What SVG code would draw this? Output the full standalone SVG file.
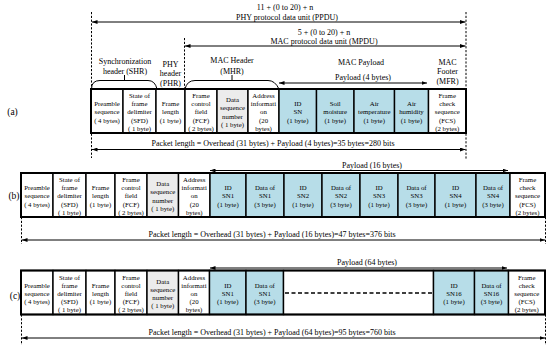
<svg xmlns="http://www.w3.org/2000/svg" width="550" height="347" viewBox="0 0 550 347">
<defs>
<marker id="ah" markerUnits="userSpaceOnUse" markerWidth="6" markerHeight="4" refX="5.5" refY="2" orient="auto-start-reverse"><path d="M0,0 L5.5,2 L0,4 z" fill="#000"/></marker>
<style>
text{font-family:"Liberation Serif","Times New Roman",serif;fill:#000;text-anchor:middle}
.t{font-size:6.8px}
.h{font-size:8px}
.lab{font-size:9.5px}
.c{stroke:#000;stroke-width:1.4;fill:#fff}
.b{fill:#b7dde8}
.g{fill:#ececec}
.o{stroke:#000;stroke-width:2;fill:none}
.d{stroke:#000;stroke-width:1;stroke-dasharray:2.2,1.6;fill:none}
.a{stroke:#000;stroke-width:1;fill:none;marker-start:url(#ah);marker-end:url(#ah)}
.br{stroke:#000;stroke-width:1;fill:none}
</style>
</defs>
<rect width="550" height="347" fill="#fff"/>

<!-- header texts -->
<g id="hdr">
<text class="h" x="285" y="9.5">11 + (0 to 20) + n</text>
<text class="h" x="287" y="19.5">PHY protocol data unit (PPDU)</text>
<text class="h" x="324" y="34.5">5 + (0 to 20) + n</text>
<text class="h" x="324" y="43.8">MAC protocol data unit (MPDU)</text>
<text class="h" x="125" y="63.8">Synchronization</text>
<text class="h" x="125" y="73.8">header (SHR)</text>
<text class="h" x="170.5" y="66.8">PHY</text>
<text class="h" x="170.5" y="75.8">header</text>
<text class="h" x="170.5" y="85.8">(PHR)</text>
<text class="h" x="232" y="62.8">MAC Header</text>
<text class="h" x="232" y="73.8">(MHR)</text>
<text class="h" x="361" y="64.8">MAC Payload</text>
<text class="h" x="363" y="79.8">Payload (4 bytes)</text>
<text class="h" x="447.5" y="64.5">MAC</text>
<text class="h" x="447.5" y="74">Footer</text>
<text class="h" x="447.5" y="83.5">(MFR)</text>
<text class="lab" x="12.5" y="114.5">(a)</text>
<text class="lab" x="14" y="198.5">(b)</text>
<text class="lab" x="15" y="298.5">(c)</text>
<text class="h" x="273" y="146">Packet length = Overhead (31 bytes) + Payload (4 bytes)=35 bytes=280 bits</text>
<text class="h" x="372" y="167.5">Payload (16 bytes)</text>
<text class="h" x="272" y="236.5">Packet length = Overhead (31 bytes) + Payload (16 bytes)=47 bytes=376 bits</text>
<text class="h" x="367" y="264.5">Payload (64 bytes)</text>
<text class="h" x="272" y="334.5">Packet length = Overhead (31 bytes) + Payload (64 bytes)=95 bytes=760 bits</text>
</g>

<!-- row a -->
<g id="a-pre"><rect class="c" x="91" y="89" width="32" height="44"/><text class="t"><tspan x="107" y="106.2">Preamble</tspan><tspan x="107" y="114.4">sequence</tspan><tspan x="107" y="122.6">( 4 bytes)</tspan></text></g>
<g id="a-sfd"><rect class="c" x="123" y="89" width="33" height="44"/><text class="t"><tspan x="139.5" y="98">State of</tspan><tspan x="139.5" y="106.2">frame</tspan><tspan x="139.5" y="114.4">delimiter</tspan><tspan x="139.5" y="122.6">(SFD)</tspan><tspan x="139.5" y="130.8">( 1 byte)</tspan></text></g>
<g id="a-fl"><rect class="c" x="156" y="89" width="29" height="44"/><text class="t"><tspan x="170.5" y="106.2">Frame</tspan><tspan x="170.5" y="114.4">length</tspan><tspan x="170.5" y="122.6">(1 byte)</tspan></text></g>
<g id="a-fcf"><rect class="c" x="185" y="89" width="32" height="44"/><text class="t"><tspan x="201" y="98">Frame</tspan><tspan x="201" y="106.2">control</tspan><tspan x="201" y="114.4">field</tspan><tspan x="201" y="122.6">(FCF)</tspan><tspan x="201" y="130.8">( 2 bytes)</tspan></text></g>
<g id="a-dsn"><rect class="c g" x="217" y="89" width="31" height="44"/><text class="t"><tspan x="232.5" y="102.1">Data</tspan><tspan x="232.5" y="110.3">sequence</tspan><tspan x="232.5" y="118.5">number</tspan><tspan x="232.5" y="126.7">( 1 byte)</tspan></text></g>
<g id="a-addr"><rect class="c" x="248" y="89" width="31" height="44"/><text class="t"><tspan x="263.5" y="98">Address</tspan><tspan x="263.5" y="106.2">informati</tspan><tspan x="263.5" y="114.4">on</tspan><tspan x="263.5" y="122.6">(20</tspan><tspan x="263.5" y="130.8">bytes)</tspan></text></g>
<g id="a-id"><rect class="c b" x="279" y="89" width="37.5" height="44"/><text class="t"><tspan x="297.75" y="106.2">ID</tspan><tspan x="297.75" y="114.4">SN</tspan><tspan x="297.75" y="122.6">(1 byte)</tspan></text></g>
<g id="a-soil"><rect class="c b" x="316.5" y="89" width="37.5" height="44"/><text class="t"><tspan x="335.25" y="106.2">Soil</tspan><tspan x="335.25" y="114.4">moisture</tspan><tspan x="335.25" y="122.6">(1 byte)</tspan></text></g>
<g id="a-temp"><rect class="c b" x="354" y="89" width="40.5" height="44"/><text class="t"><tspan x="374.25" y="106.2">Air</tspan><tspan x="374.25" y="114.4">temperature</tspan><tspan x="374.25" y="122.6">(1 byte)</tspan></text></g>
<g id="a-hum"><rect class="c b" x="394.5" y="89" width="34" height="44"/><text class="t"><tspan x="411.5" y="106.2">Air</tspan><tspan x="411.5" y="114.4">humidity</tspan><tspan x="411.5" y="122.6">(1 byte)</tspan></text></g>
<g id="a-fcs"><rect class="c" x="428.5" y="89" width="37.5" height="44"/><text class="t"><tspan x="447.25" y="98">Frame</tspan><tspan x="447.25" y="106.2">check</tspan><tspan x="447.25" y="114.4">sequence</tspan><tspan x="447.25" y="122.6">(FCS)</tspan><tspan x="447.25" y="130.8">(2 bytes)</tspan></text></g>
<rect class="o" x="91" y="89" width="375" height="44"/>

<!-- row b -->
<g id="b-pre"><rect class="c" x="21" y="173" width="32" height="44"/><text class="t"><tspan x="37" y="190.2">Preamble</tspan><tspan x="37" y="198.4">sequence</tspan><tspan x="37" y="206.6">( 4 bytes)</tspan></text></g>
<g id="b-sfd"><rect class="c" x="53" y="173" width="33" height="44"/><text class="t"><tspan x="69.5" y="182">State of</tspan><tspan x="69.5" y="190.2">frame</tspan><tspan x="69.5" y="198.4">delimiter</tspan><tspan x="69.5" y="206.6">(SFD)</tspan><tspan x="69.5" y="214.8">( 1 byte)</tspan></text></g>
<g id="b-fl"><rect class="c" x="86" y="173" width="29" height="44"/><text class="t"><tspan x="100.5" y="190.2">Frame</tspan><tspan x="100.5" y="198.4">length</tspan><tspan x="100.5" y="206.6">(1 byte)</tspan></text></g>
<g id="b-fcf"><rect class="c" x="115" y="173" width="32" height="44"/><text class="t"><tspan x="131" y="182">Frame</tspan><tspan x="131" y="190.2">control</tspan><tspan x="131" y="198.4">field</tspan><tspan x="131" y="206.6">(FCF)</tspan><tspan x="131" y="214.8">( 2 bytes)</tspan></text></g>
<g id="b-dsn"><rect class="c g" x="147" y="173" width="31.5" height="44"/><text class="t"><tspan x="162.75" y="186.1">Data</tspan><tspan x="162.75" y="194.3">sequence</tspan><tspan x="162.75" y="202.5">number</tspan><tspan x="162.75" y="210.7">( 1 byte)</tspan></text></g>
<g id="b-addr"><rect class="c" x="178.5" y="173" width="31.5" height="44"/><text class="t"><tspan x="194.25" y="182">Address</tspan><tspan x="194.25" y="190.2">informati</tspan><tspan x="194.25" y="198.4">on</tspan><tspan x="194.25" y="206.6">(20</tspan><tspan x="194.25" y="214.8">bytes)</tspan></text></g>
<g id="b-id1"><rect class="c b" x="210" y="173" width="36" height="44"/><text class="t"><tspan x="228" y="190.2">ID</tspan><tspan x="228" y="198.4">SN1</tspan><tspan x="228" y="206.6">(1 byte)</tspan></text></g>
<g id="b-d1"><rect class="c b" x="246" y="173" width="38" height="44"/><text class="t"><tspan x="265" y="190.2">Data of</tspan><tspan x="265" y="198.4">SN1</tspan><tspan x="265" y="206.6">(3 byte)</tspan></text></g>
<g id="b-id2"><rect class="c b" x="284" y="173" width="38" height="44"/><text class="t"><tspan x="303" y="190.2">ID</tspan><tspan x="303" y="198.4">SN2</tspan><tspan x="303" y="206.6">(1 byte)</tspan></text></g>
<g id="b-d2"><rect class="c b" x="322" y="173" width="38" height="44"/><text class="t"><tspan x="341" y="190.2">Data of</tspan><tspan x="341" y="198.4">SN2</tspan><tspan x="341" y="206.6">(3 byte)</tspan></text></g>
<g id="b-id3"><rect class="c b" x="360" y="173" width="38" height="44"/><text class="t"><tspan x="379" y="190.2">ID</tspan><tspan x="379" y="198.4">SN3</tspan><tspan x="379" y="206.6">(1 byte)</tspan></text></g>
<g id="b-d3"><rect class="c b" x="398" y="173" width="37" height="44"/><text class="t"><tspan x="416.5" y="190.2">Data of</tspan><tspan x="416.5" y="198.4">SN3</tspan><tspan x="416.5" y="206.6">(3 byte)</tspan></text></g>
<g id="b-id4"><rect class="c b" x="435" y="173" width="41" height="44"/><text class="t"><tspan x="455.5" y="190.2">ID</tspan><tspan x="455.5" y="198.4">SN4</tspan><tspan x="455.5" y="206.6">(1 byte)</tspan></text></g>
<g id="b-d4"><rect class="c b" x="476" y="173" width="34" height="44"/><text class="t"><tspan x="493" y="190.2">Data of</tspan><tspan x="493" y="198.4">SN4</tspan><tspan x="493" y="206.6">(3 byte)</tspan></text></g>
<g id="b-fcs"><rect class="c" x="510" y="173" width="35" height="44"/><text class="t"><tspan x="527.5" y="182">Frame</tspan><tspan x="527.5" y="190.2">check</tspan><tspan x="527.5" y="198.4">sequence</tspan><tspan x="527.5" y="206.6">(FCS)</tspan><tspan x="527.5" y="214.8">(2 bytes)</tspan></text></g>
<rect class="o" x="21" y="173" width="524" height="44"/>

<!-- row c -->
<g id="c-pre"><rect class="c" x="21" y="270.5" width="32" height="44"/><text class="t"><tspan x="37" y="287.7">Preamble</tspan><tspan x="37" y="295.9">sequence</tspan><tspan x="37" y="304.1">( 4 bytes)</tspan></text></g>
<g id="c-sfd"><rect class="c" x="53" y="270.5" width="33" height="44"/><text class="t"><tspan x="69.5" y="279.5">State of</tspan><tspan x="69.5" y="287.7">frame</tspan><tspan x="69.5" y="295.9">delimiter</tspan><tspan x="69.5" y="304.1">(SFD)</tspan><tspan x="69.5" y="312.3">( 1 byte)</tspan></text></g>
<g id="c-fl"><rect class="c" x="86" y="270.5" width="29" height="44"/><text class="t"><tspan x="100.5" y="287.7">Frame</tspan><tspan x="100.5" y="295.9">length</tspan><tspan x="100.5" y="304.1">(1 byte)</tspan></text></g>
<g id="c-fcf"><rect class="c" x="115" y="270.5" width="32" height="44"/><text class="t"><tspan x="131" y="279.5">Frame</tspan><tspan x="131" y="287.7">control</tspan><tspan x="131" y="295.9">field</tspan><tspan x="131" y="304.1">(FCF)</tspan><tspan x="131" y="312.3">( 2 bytes)</tspan></text></g>
<g id="c-dsn"><rect class="c g" x="147" y="270.5" width="31.5" height="44"/><text class="t"><tspan x="162.75" y="283.6">Data</tspan><tspan x="162.75" y="291.8">sequence</tspan><tspan x="162.75" y="300">number</tspan><tspan x="162.75" y="308.2">( 1 byte)</tspan></text></g>
<g id="c-addr"><rect class="c" x="178.5" y="270.5" width="31" height="44"/><text class="t"><tspan x="194" y="279.5">Address</tspan><tspan x="194" y="287.7">informati</tspan><tspan x="194" y="295.9">on</tspan><tspan x="194" y="304.1">(20</tspan><tspan x="194" y="312.3">bytes)</tspan></text></g>
<g id="c-id1"><rect class="c b" x="209.5" y="270.5" width="36.5" height="44"/><text class="t"><tspan x="227.75" y="287.7">ID</tspan><tspan x="227.75" y="295.9">SN1</tspan><tspan x="227.75" y="304.1">(1 byte)</tspan></text></g>
<g id="c-d1"><rect class="c b" x="246" y="270.5" width="37.5" height="44"/><text class="t"><tspan x="264.75" y="287.7">Data of</tspan><tspan x="264.75" y="295.9">SN1</tspan><tspan x="264.75" y="304.1">(3 byte)</tspan></text></g>
<g id="c-gap"><rect class="c" x="283.5" y="270.5" width="150" height="44"/><line x1="285" y1="293" x2="432" y2="293" stroke="#000" stroke-width="1.3" stroke-dasharray="4,2.5"/></g>
<g id="c-id16"><rect class="c b" x="433.5" y="270.5" width="41" height="44"/><text class="t"><tspan x="454" y="287.7">ID</tspan><tspan x="454" y="295.9">SN16</tspan><tspan x="454" y="304.1">(1 byte)</tspan></text></g>
<g id="c-d16"><rect class="c b" x="474.5" y="270.5" width="34" height="44"/><text class="t"><tspan x="491.5" y="287.7">Data of</tspan><tspan x="491.5" y="295.9">SN16</tspan><tspan x="491.5" y="304.1">(3 byte)</tspan></text></g>
<g id="c-fcs"><rect class="c" x="508.5" y="270.5" width="36.5" height="44"/><text class="t"><tspan x="526.75" y="279.5">Frame</tspan><tspan x="526.75" y="287.7">check</tspan><tspan x="526.75" y="295.9">sequence</tspan><tspan x="526.75" y="304.1">(FCS)</tspan><tspan x="526.75" y="312.3">(2 bytes)</tspan></text></g>
<rect class="o" x="21" y="270.5" width="524" height="44"/>

<!-- connectors -->
<g id="connectors">
<line class="d" x1="91.5" y1="12" x2="91.5" y2="158"/>
<line class="d" x1="466" y1="12" x2="466" y2="160"/>
<line class="d" x1="184.5" y1="38" x2="184.5" y2="89"/>
<line class="d" x1="21.5" y1="217" x2="21.5" y2="244"/>
<line class="d" x1="545.5" y1="217" x2="545.5" y2="244"/>
<line class="d" x1="21.5" y1="314.5" x2="21.5" y2="345"/>
<line class="d" x1="545.5" y1="314.5" x2="545.5" y2="345"/>
<path class="br" d="M91.5,89 Q91.5,80.5 100,80.5 L148,80.5 Q155,80.5 157,89"/>
<line class="br" x1="124.5" y1="75" x2="124.5" y2="80.5"/>
<path class="br" d="M185,89 Q187,80.5 195,80.5 L268,80.5 Q275,80.5 279,89"/>
<line class="br" x1="232" y1="75" x2="232" y2="80.5"/>
<line class="a" x1="92" y1="22" x2="465.5" y2="22"/>
<line class="a" x1="185" y1="46" x2="465.5" y2="46"/>
<line class="a" x1="279" y1="83" x2="427" y2="83"/>
<line class="a" x1="92" y1="149.5" x2="465.5" y2="149.5"/>
<line class="a" x1="210" y1="170.5" x2="508" y2="170.5"/>
<line class="a" x1="22" y1="240" x2="545" y2="240"/>
<line class="a" x1="210" y1="268" x2="507" y2="268"/>
<line class="a" x1="22" y1="338" x2="545" y2="338"/>
</g>
</svg>
